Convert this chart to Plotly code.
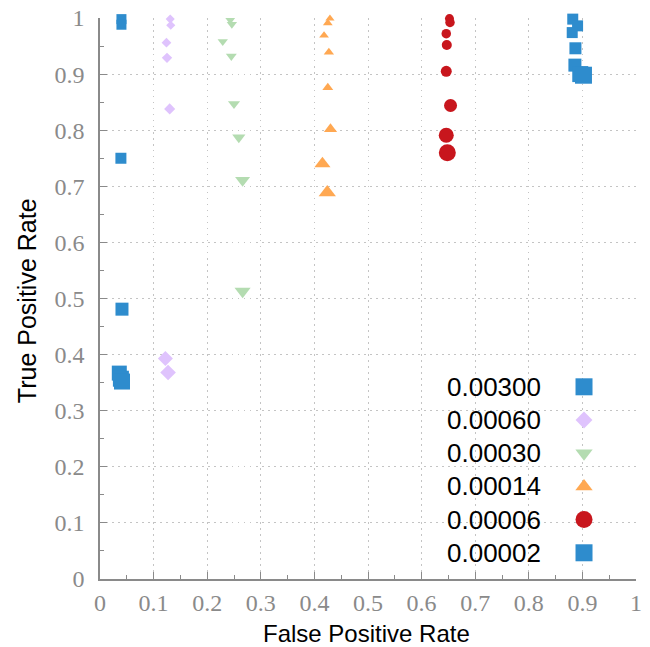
import plotly.graph_objects as go

# ---------------- data ----------------
series_names = ["0.00300", "0.00060", "0.00030", "0.00014", "0.00006", "0.00002"]

fpr_0_00300 = [0.040, 0.040, 0.039, 0.041, 0.036, 0.039, 0.041]
tpr_0_00300 = [0.998, 0.988, 0.750, 0.481, 0.367, 0.357, 0.352]

fpr_0_00060 = [0.131, 0.132, 0.124, 0.125, 0.130, 0.122, 0.127]
tpr_0_00060 = [0.998, 0.987, 0.956, 0.929, 0.838, 0.393, 0.368]

fpr_0_00030 = [0.243, 0.246, 0.229, 0.245, 0.250, 0.259, 0.266, 0.266]
tpr_0_00030 = [0.996, 0.989, 0.958, 0.932, 0.847, 0.787, 0.711, 0.513]

fpr_0_00014 = [0.429, 0.425, 0.418, 0.427, 0.425, 0.430, 0.415, 0.424]
tpr_0_00014 = [0.999, 0.991, 0.969, 0.939, 0.876, 0.802, 0.740, 0.689]

fpr_0_00006 = [0.652, 0.653, 0.646, 0.647, 0.646, 0.654, 0.646, 0.648]
tpr_0_00006 = [0.999, 0.992, 0.972, 0.952, 0.905, 0.844, 0.791, 0.760]

fpr_0_00002 = [0.882, 0.891, 0.881, 0.887, 0.886, 0.896, 0.902]
tpr_0_00002 = [0.998, 0.986, 0.974, 0.946, 0.916, 0.900, 0.898]

x_ticks = [0, 0.1, 0.2, 0.3, 0.4, 0.5, 0.6, 0.7, 0.8, 0.9, 1]
x_tick_labels = ["0", "0.1", "0.2", "0.3", "0.4", "0.5", "0.6", "0.7", "0.8", "0.9", "1"]
y_ticks = x_ticks
y_tick_labels = x_tick_labels

x_title = "False Positive Rate"
y_title = "True Positive Rate"

# ---------------- style ----------------
colors = ["#2e8ccd", "#dfc3fd", "#b4dcb1", "#ffa852", "#c8161d", "#2e8ccd"]
symbols = ["square", "diamond", "triangle-down", "triangle-up", "circle", "square"]
sizes = [
    [10, 10, 11, 13, 15, 16, 16],
    [7, 7, 7.5, 8, 8.5, 11.5, 12],
    [8.5, 9, 9, 9.5, 10.5, 11.5, 13, 14],
    [8, 8.5, 8.5, 9, 9.5, 11.5, 14, 15],
    [9, 9.5, 9.5, 10, 11, 13, 15, 17],
    [11, 11, 11, 12, 13, 16, 17],
]
legend_sizes = [17, 13, 15, 15, 17, 17]

xs = [fpr_0_00300, fpr_0_00060, fpr_0_00030, fpr_0_00014, fpr_0_00006, fpr_0_00002]
ys = [tpr_0_00300, tpr_0_00060, tpr_0_00030, tpr_0_00014, tpr_0_00006, tpr_0_00002]

fig = go.Figure()
for name, x, y, c, s, sz in zip(series_names, xs, ys, colors, symbols, sizes):
    fig.add_trace(go.Scatter(
        x=x, y=y, mode="markers", name=name, showlegend=False, cliponaxis=False,
        marker=dict(color=c, symbol=s, size=sz, opacity=1, line=dict(width=0)),
    ))

# custom legend (marker to the right of the label) drawn on a hidden overlay axis
rows = list(range(len(series_names)))
fig.add_trace(go.Scatter(
    x=[0.903] * len(rows), y=rows, mode="markers", xaxis="x2", yaxis="y2",
    showlegend=False, cliponaxis=False, hoverinfo="skip",
    marker=dict(color=colors, symbol=symbols, size=legend_sizes, opacity=1, line=dict(width=0)),
))
for r, name in zip(rows, series_names):
    fig.add_annotation(
        x=0.826, y=r, xref="x2", yref="y2", text=name, showarrow=False,
        xanchor="right", yanchor="middle",
        font=dict(family="Liberation Sans", size=26, color="#000000"),
    )

# axis titles
title_font = dict(family="Liberation Sans", size=24, color="#000000")
fig.add_annotation(x=0.498, y=-0.0695, xref="paper", yref="paper", text=x_title,
                   showarrow=False, xanchor="center", yanchor="top", font=title_font)
fig.add_annotation(x=-0.136, y=0.4955, xref="paper", yref="paper", text=y_title,
                   showarrow=False, xanchor="center", yanchor="middle", textangle=-90,
                   font=dict(family="Liberation Sans", size=25, color="#000000"))

tickfont = dict(family="Liberation Serif", size=24, color="#8a8a8a")
axis_common = dict(
    range=[0, 1], showline=True, linecolor="#8a8a8a", linewidth=1.5,
    ticks="inside", ticklen=7, tickcolor="#8a8a8a", tickwidth=1,
    showgrid=True, gridcolor="#c4c4c4", griddash="1.5px,4.5px", gridwidth=1,
    zeroline=False, tickfont=tickfont, automargin=False,
    minor=dict(dtick=0.05, ticks="inside", ticklen=4, tickcolor="#8a8a8a", showgrid=False),
    mirror=False,
)

fig.update_layout(
    width=650, height=647,
    margin=dict(l=100, r=14, t=18, b=68),
    paper_bgcolor="white", plot_bgcolor="white",
    showlegend=False,
    xaxis=dict(**axis_common, tickvals=x_ticks, ticktext=x_tick_labels, ticklabelstandoff=1),
    yaxis=dict(**axis_common, tickvals=y_ticks, ticktext=y_tick_labels, ticklabelstandoff=9),
    xaxis2=dict(range=[0, 1], overlaying="x", visible=False, fixedrange=True),
    yaxis2=dict(range=[5.79, -11.11], overlaying="y", visible=False, fixedrange=True),
)

fig.write_html("out.html")
